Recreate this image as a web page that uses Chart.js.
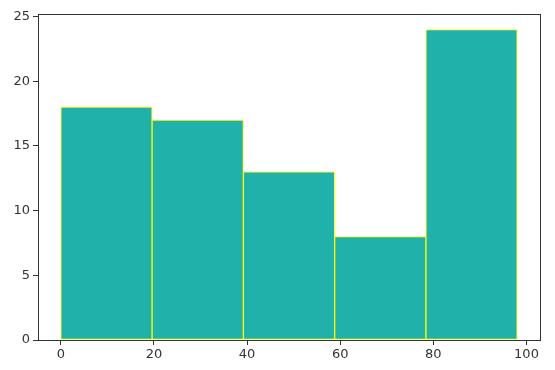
<!DOCTYPE html>
<html>
<head>
<meta charset="utf-8">
<script src="https://cdn.jsdelivr.net/npm/chart.js@4"></script>
<style>
  body { margin: 0; background: #fff; }
  canvas { display: block; }
</style>
</head>
<body>
<canvas id="hist" width="555" height="370"></canvas>
<script>
// histogram: 5 bins between 0 and 98
const binEdges = [0, 19.6, 39.2, 58.8, 78.4, 98];
const counts = [18, 17, 13, 8, 24];
const xTicks = [0, 20, 40, 60, 80, 100];
const yTicks = [0, 5, 10, 15, 20, 25];

const points = counts.map((c, i) => ({ x: (binEdges[i] + binEdges[i + 1]) / 2, y: c }));

// draw the full axes box like matplotlib
const frame = {
  id: 'frame',
  afterDraw(chart) {
    const { ctx, chartArea: a } = chart;
    ctx.save();
    ctx.strokeStyle = '#333';
    ctx.lineWidth = 1;
    ctx.strokeRect(Math.round(a.left) + 0.5, Math.round(a.top) + 0.5,
      Math.round(a.right - a.left), Math.round(a.bottom - a.top));
    ctx.restore();
  }
};

const ctx = document.getElementById('hist').getContext('2d');
new Chart(ctx, {
  type: 'bar',
  data: {
    datasets: [{
      data: points,
      backgroundColor: '#20b2aa',
      borderColor: 'yellow',
      borderWidth: 1,
      borderSkipped: false,
      barPercentage: 1,
      categoryPercentage: 1
    }]
  },
  options: {
    responsive: false,
    animation: false,
    layout: { padding: { top: 14, right: 15, left: 0, bottom: 0 } },
    plugins: { legend: { display: false }, tooltip: { enabled: false } },
    scales: {
      x: {
        type: 'linear',
        offset: false,
        min: -4.9,
        max: 102.9,
        afterFit(s) { s.height = 30; },
        afterBuildTicks(s) { s.ticks = xTicks.map(v => ({ value: v })); },
        grid: { offset: false, drawOnChartArea: false, drawTicks: true, tickLength: 5, color: '#333' },
        border: { display: false },
        ticks: { color: '#333', font: { family: 'DejaVu Sans', size: 13 }, padding: 2, maxRotation: 0 }
      },
      y: {
        min: 0,
        max: 25.2,
        afterFit(s) { s.width = 38; },
        afterBuildTicks(s) { s.ticks = yTicks.map(v => ({ value: v })); },
        grid: { drawOnChartArea: false, drawTicks: true, tickLength: 5, color: '#333' },
        border: { display: false },
        ticks: { color: '#333', font: { family: 'DejaVu Sans', size: 13 }, padding: 3 }
      }
    }
  },
  plugins: [frame]
});
</script>
</body>
</html>
